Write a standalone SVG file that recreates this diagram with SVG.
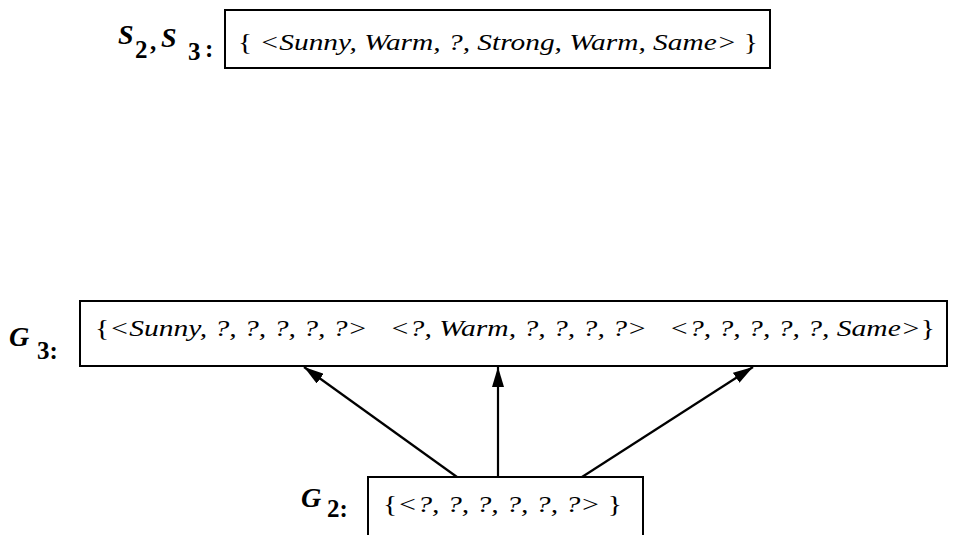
<svg xmlns="http://www.w3.org/2000/svg" width="958" height="535" viewBox="0 0 958 535">
<style>
.box{fill:#fff;stroke:#000;stroke-width:2}
.t{font-family:"Liberation Serif",serif;font-size:23px;fill:#000}
.i{font-style:italic}
.lab{font-family:"Liberation Serif",serif;font-weight:bold;fill:#000}
.big{font-size:28px;font-style:italic}
.sub{font-size:25px}
.edge{stroke:#000;stroke-width:2.2;fill:none}
</style>
<defs>
<marker id="a" viewBox="0 0 20 12" refX="20" refY="6" markerWidth="20" markerHeight="12" orient="auto" markerUnits="userSpaceOnUse">
<path d="M0,0 L20,6 L0,12 z" fill="#000"/>
</marker>
</defs>
<g id="S23">
<text class="lab"><tspan class="big" x="118" y="44">S</tspan><tspan class="sub" x="135" y="58">2</tspan><tspan class="sub" x="150" y="50">,</tspan><tspan class="big" x="161" y="47">S</tspan><tspan class="sub" x="188" y="60">3</tspan><tspan class="sub" x="205" y="57">:</tspan></text>
<rect class="box" x="225" y="10" width="545" height="58"/>
<text class="t" x="238" y="50" textLength="520" lengthAdjust="spacingAndGlyphs">{ <tspan class="i">&lt;Sunny, Warm, ?, Strong, Warm, Same&gt;</tspan> }</text>
</g>
<g id="G3">
<text class="lab"><tspan class="big" x="9" y="346">G</tspan><tspan class="sub" x="37" y="359">3:</tspan></text>
<rect class="box" x="80" y="301" width="867" height="65"/>
<text class="t" x="95" y="336" xml:space="preserve" textLength="840" lengthAdjust="spacingAndGlyphs">{<tspan class="i">&lt;Sunny, ?, ?, ?, ?, ?&gt;   &lt;?, Warm, ?, ?, ?, ?&gt;   &lt;?, ?, ?, ?, ?, Same&gt;</tspan>}</text>
</g>
<g id="G2">
<text class="lab"><tspan class="big" x="301" y="507">G</tspan><tspan class="sub" x="327" y="517">2:</tspan></text>
<rect class="box" x="368" y="477" width="275" height="70"/>
<text class="t" x="383" y="512" textLength="239" lengthAdjust="spacingAndGlyphs">{<tspan class="i">&lt;?, ?, ?, ?, ?, ?&gt;</tspan> }</text>
</g>
<g id="connectors">
<line class="edge" x1="457" y1="477" x2="304" y2="367" marker-end="url(#a)"/>
<line class="edge" x1="498" y1="477" x2="498" y2="367" marker-end="url(#a)"/>
<line class="edge" x1="582" y1="477" x2="753" y2="367" marker-end="url(#a)"/>
</g>
</svg>
